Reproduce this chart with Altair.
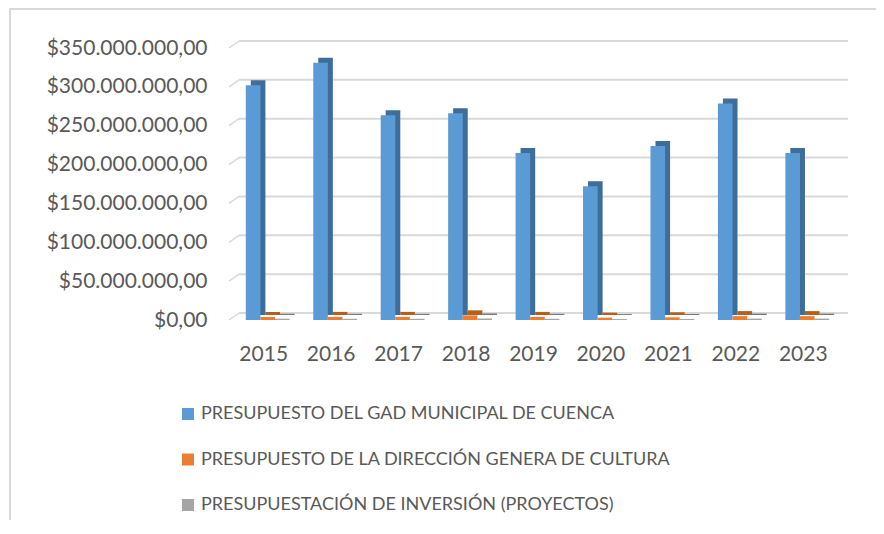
import altair as alt
import pandas as pd

years = ["2015", "2016", "2017", "2018", "2019", "2020", "2021", "2022", "2023"]
gad = [302e6, 331e6, 263.5e6, 266e6, 215e6, 172e6, 224e6, 278.5e6, 215e6]
cultura = [4.0e6, 4.0e6, 4.0e6, 6.0e6, 4.0e6, 3.0e6, 3.5e6, 5.0e6, 5.0e6]
inversion = [1.5e6, 1.5e6, 1.5e6, 1.8e6, 1.5e6, 1.2e6, 1.3e6, 1.8e6, 1.8e6]
series_names = [
    "PRESUPUESTO DEL GAD MUNICIPAL DE CUENCA",
    "PRESUPUESTO DE LA DIRECCIÓN GENERA DE CULTURA",
    "PRESUPUESTACIÓN DE INVERSIÓN (PROYECTOS)",
]
front_colors = ["#5b9bd5", "#ed7d31", "#a5a5a5"]
side_colors = ["#3f6d99", "#b0601f", "#7b7b7b"]
y_ticks = [0, 50e6, 100e6, 150e6, 200e6, 250e6, 300e6, 350e6]

rows = []
for vals, name, side in zip([gad, cultura, inversion], series_names, side_colors):
    for yr, v in zip(years, vals):
        rows.append({"year": yr, "serie": name, "valor": v, "lado": side})
df = pd.DataFrame(rows)
grid_df = pd.DataFrame({"v": y_ticks})

W, H = 607, 272
FONT = "Lato"
TXT = "#595959"
BAND = W / 9 * 0.65

yscale = alt.Scale(domain=[0, 350e6], nice=False, zero=True)
xscale = alt.Scale(paddingInner=0.35, paddingOuter=0.175)

label_expr = (
    "'$' + replace(replace(replace(format(datum.value, ',.2f'), regexp(',', 'g'), '#'), '.', ','), regexp('#', 'g'), '.')"
)

y_axis = alt.Axis(
    title=None, values=y_ticks, labelExpr=label_expr, domain=False, ticks=False, grid=False,
    labelFont=FONT, labelFontSize=21, labelColor=TXT, labelPadding=27,
)

x_enc = alt.X(
    "year:N",
    sort=years,
    scale=xscale,
    axis=alt.Axis(
        title=None, labelAngle=0, domain=False, ticks=False, grid=False,
        labelFont=FONT, labelFontSize=21, labelColor=TXT, labelPadding=23, labelOffset=-4,
    ),
)

grid = alt.Chart(grid_df).mark_rule(color="#d9d9d9", strokeWidth=2, yOffset=-7).encode(
    x=alt.value(5), x2=alt.value(W + 7),
    y=alt.Y("v:Q", scale=yscale, axis=y_axis),
)
diag = alt.Chart(grid_df).mark_rule(color="#d9d9d9", strokeWidth=1.5, yOffset=0, y2Offset=-7).encode(
    x=alt.value(-5), x2=alt.value(5),
    y=alt.Y("v:Q", scale=yscale, axis=y_axis), y2="v:Q",
)

back = alt.Chart(df).mark_bar(yOffset=-5, y2Offset=-2).encode(
    x=x_enc,
    xOffset=alt.XOffset("serie:N", sort=series_names,
                        scale=alt.Scale(domain=series_names, range=[5, BAND + 5], paddingInner=0, paddingOuter=0)),
    y=alt.Y("valor:Q", scale=yscale, axis=y_axis),
    color=alt.Color("lado:N", scale=None),
)

front = alt.Chart(df).mark_bar().encode(
    x=x_enc,
    xOffset=alt.XOffset("serie:N", sort=series_names,
                        scale=alt.Scale(domain=series_names, range=[0, BAND], paddingInner=0, paddingOuter=0)),
    y=alt.Y("valor:Q", scale=yscale, axis=y_axis),
    color=alt.Color(
        "serie:N",
        sort=series_names,
        scale=alt.Scale(domain=series_names, range=front_colors),
        legend=alt.Legend(
            title=None, orient="none", legendX=-55, legendY=357, direction="vertical",
            labelFont=FONT, labelFontSize=18, labelColor=TXT, labelLimit=700,
            symbolType="square", symbolSize=144, symbolStrokeWidth=0,
            rowPadding=27.5, labelOffset=4,
        ),
    ),
)

frame_left = alt.Chart(grid_df).mark_rule(color="#d9d9d9", strokeWidth=2).encode(
    x=alt.value(-224), y=alt.value(-40), y2=alt.value(H + 205),
)
frame_top = alt.Chart(grid_df).mark_rule(color="#d9d9d9", strokeWidth=2).encode(
    x=alt.value(-225), x2=alt.value(W + 40), y=alt.value(-39),
)

chart = (
    alt.layer(frame_left, frame_top, grid, diag, back, front)
    .resolve_scale(xOffset="independent")
    .properties(
        width=W, height=H,
        autosize=alt.AutoSizeParams(type="none"),
        padding={"left": 226, "top": 40, "right": 35, "bottom": 200},
    )
    .configure_view(stroke=None)
)

chart.save("out.html", embed_options={"renderer": "svg", "actions": False})
